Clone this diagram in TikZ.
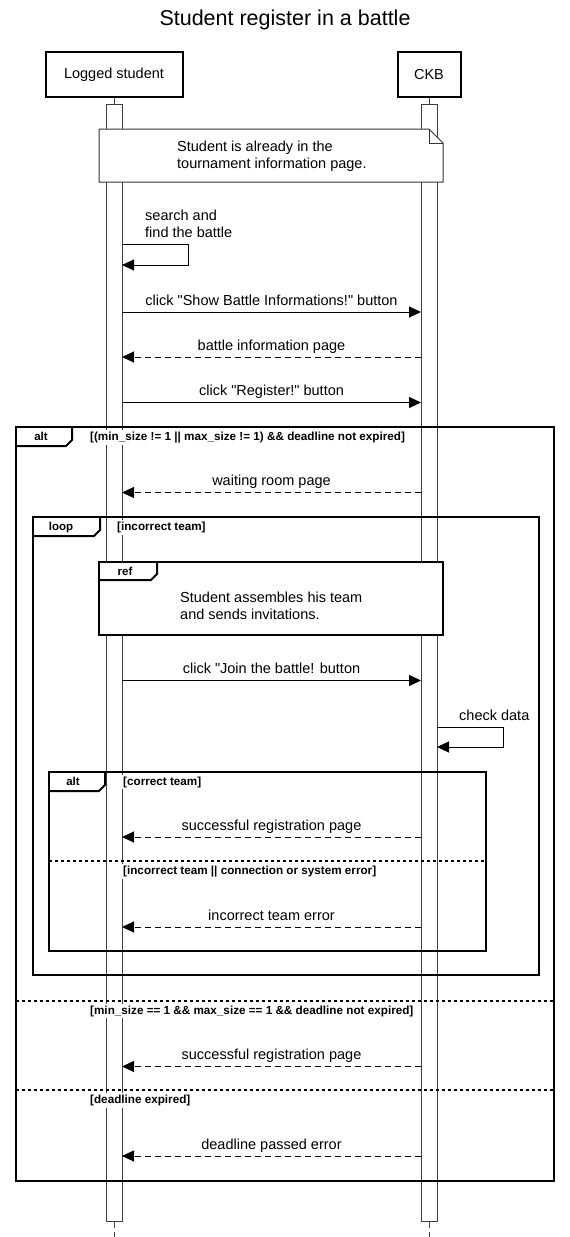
\documentclass[tikz,border=0pt]{standalone}
\usepackage{fontspec}
\setmainfont{Liberation Sans}[Ligatures=TeXOff]
\usetikzlibrary{arrows.meta}
\newcommand\msgfont{\fontsize{14.5pt}{17pt}\selectfont}
\newcommand\guardfont{\fontsize{11.7pt}{13pt}\selectfont\bfseries}
\newcommand\tabfont{\fontsize{11.5pt}{13pt}\selectfont\bfseries}
\newcommand\titlefont{\fontsize{21.5pt}{26pt}\selectfont}
\newcommand\qq{\symbol{34}}
\begin{document}
\begin{tikzpicture}[x=1pt,y=-1pt,
  actorbox/.style={draw, line width=2pt, minimum height=45pt, inner sep=0pt, font=\msgfont},
  barbox/.style={draw=black!75, fill=white, line width=1pt, minimum width=16pt, minimum height=1117pt, inner sep=0pt},
  lifeline/.style={draw=black!75, line width=1pt},
  msg/.style={draw, line width=1pt, -{Triangle[length=12pt,width=11pt]}},
  ret/.style={msg, dash pattern=on 6pt off 4pt},
  lbl/.style={font=\msgfont, inner sep=0pt, anchor=base, yshift=7pt},
  frm/.style={line width=2pt},
  sepline/.style={line width=2pt, dash pattern=on 3pt off 3pt},
  tablbl/.style={font=\tabfont, inner sep=0pt, anchor=base},
  guard/.style={font=\guardfont, fill=white, inner xsep=1pt, inner ysep=2pt, anchor=base west},
  txt/.style={font=\msgfont, align=left, inner sep=0pt}
]
\useasboundingbox (0,0) rectangle (570,1237);
\fill[white] (0,0) rectangle (570,1237);

% title
\node[font=\titlefont, anchor=base, inner sep=0pt] (title) at (285,25) {Student register in a battle};

% actors
\node[actorbox, minimum width=137pt] (ls) at (114,74.5) {Logged student};
\node[actorbox, minimum width=63pt] (ckb) at (429,74.5) {CKB};

% activation bars
\node[barbox] (bar1) at (114,662.5) {};
\node[barbox] (bar2) at (429,662.5) {};
\coordinate (end1) at (114,1237);
\coordinate (end2) at (429,1237);
\draw[lifeline] (ls.south) -- (bar1.north);
\draw[lifeline] (ckb.south) -- (bar2.north);
\draw[lifeline, dash pattern=on 6pt off 4pt] (bar1.south) -- (end1);
\draw[lifeline, dash pattern=on 6pt off 4pt] (bar2.south) -- (end2);

% note
\draw[fill=white, line width=1pt, draw=black!80] (99,129) -- (429,129) -- (443,143) -- (443,182) -- (99,182) -- cycle;
\draw[line width=1pt, draw=black!80] (429,129) -- (429,143) -- (443,143);
\node[txt, anchor=base west] (note) at (177,168) {Student is already in the\\tournament information page.};

% self message 1
\coordinate (s1a) at (122,244);
\coordinate (s1b) at (122,265);
\draw[msg] (s1a) -- (188,244) -- (188,265) -- (s1b);
\node[txt, anchor=base west] (s1lbl) at (145,237) {search and\\find the battle};

% messages
\coordinate (m1a) at (122,312);   \coordinate (m1b) at (421,312);
\draw[msg] (m1a) -- node[lbl] (m1lbl) {click \qq Show Battle Informations!\qq\ button} (m1b);
\coordinate (m2a) at (421,357);   \coordinate (m2b) at (122,357);
\draw[ret] (m2a) -- node[lbl] (m2lbl) {battle information page} (m2b);
\coordinate (m3a) at (122,402.5); \coordinate (m3b) at (421,402.5);
\draw[msg] (m3a) -- node[lbl] (m3lbl) {click \qq Register!\qq\ button} (m3b);

% outer alt
\draw[frm] (16,427) rectangle (554,1181);
\draw[frm] (16,446) -- (66,446) -- (72,440) -- (72,427);
\node[tablbl] (altlbl) at (41,440.5) {alt};
\node[guard] (g1) at (89,440.5) {[(min\_size != 1 || max\_size != 1) \&\& deadline not expired]};

\coordinate (m4a) at (421,492.5); \coordinate (m4b) at (122,492.5);
\draw[ret] (m4a) -- node[lbl] (m4lbl) {waiting room page} (m4b);

% loop
\draw[frm] (33,517) rectangle (539,975);
\draw[frm] (33,536) -- (94,536) -- (100,530) -- (100,517);
\node[tablbl] (looplbl) at (61,530.5) {loop};
\node[guard] (g2) at (116,530.5) {[incorrect team]};

% ref
\draw[frm, fill=white] (99,562) rectangle (443,635);
\draw[frm] (99,580) -- (151,580) -- (157,574) -- (157,562);
\node[tablbl] (reflbl) at (125,575) {ref};
\node[txt, anchor=base west] (reftxt) at (180,619) {Student assembles his team\\and sends invitations.};

\coordinate (m5a) at (122,680.5); \coordinate (m5b) at (421,680.5);
\draw[msg] (m5a) -- node[lbl] (m5lbl) {click \qq Join the battle! button} (m5b);

% self message 2
\coordinate (s2a) at (437,727);
\coordinate (s2b) at (437,747);
\draw[msg] (s2a) -- (503,727) -- (503,747) -- (s2b);
\node[txt, anchor=base west] (s2lbl) at (459,720) {check data};

% inner alt
\draw[frm] (49,772) rectangle (486,951);
\draw[frm] (49,791) -- (99,791) -- (105,785) -- (105,772);
\node[tablbl] (alt2lbl) at (73,785) {alt};
\node[guard] (g3) at (122,785) {[correct team]};
\coordinate (m6a) at (421,837); \coordinate (m6b) at (122,837);
\draw[ret] (m6a) -- node[lbl] (m6lbl) {successful registration page} (m6b);
\coordinate (sp1a) at (49,861); \coordinate (sp1b) at (486,861);
\draw[sepline] (sp1a) -- (sp1b);
\node[guard] (g4) at (122,874.5) {[incorrect team || connection or system error]};
\coordinate (m7a) at (421,927); \coordinate (m7b) at (122,927);
\draw[ret] (m7a) -- node[lbl] (m7lbl) {incorrect team error} (m7b);

% outer alt operands
\coordinate (sp2a) at (16,1000.5); \coordinate (sp2b) at (554,1000.5);
\draw[sepline] (sp2a) -- (sp2b);
\node[guard] (g5) at (89,1014) {[min\_size == 1 \&\& max\_size == 1 \&\& deadline not expired]};
\coordinate (m8a) at (421,1066.5); \coordinate (m8b) at (122,1066.5);
\draw[ret] (m8a) -- node[lbl] (m8lbl) {successful registration page} (m8b);
\coordinate (sp3a) at (16,1090); \coordinate (sp3b) at (554,1090);
\draw[sepline] (sp3a) -- (sp3b);
\node[guard] (g6) at (89,1103.5) {[deadline expired]};
\coordinate (m9a) at (421,1156); \coordinate (m9b) at (122,1156);
\draw[ret] (m9a) -- node[lbl] (m9lbl) {deadline passed error} (m9b);
\end{tikzpicture}
\end{document}
